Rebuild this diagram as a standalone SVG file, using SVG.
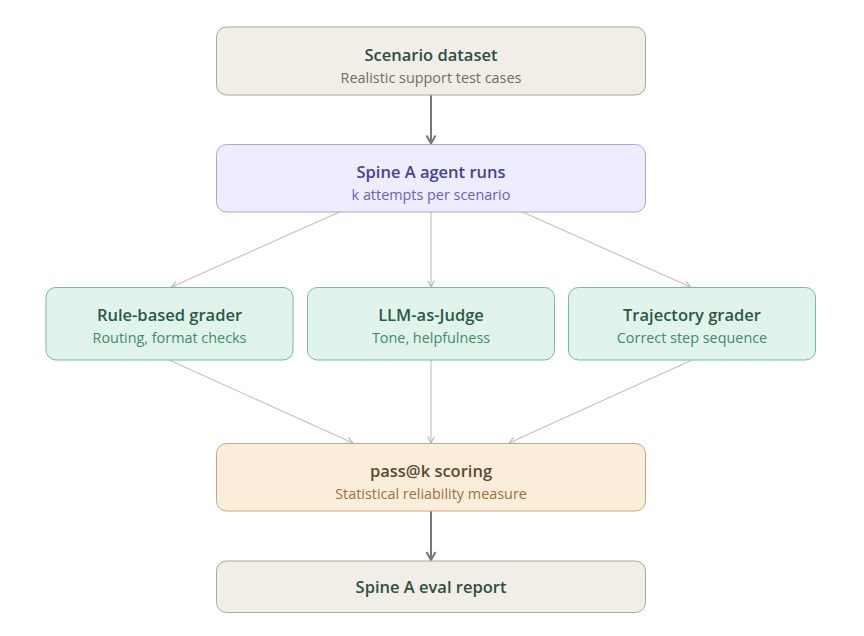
<svg xmlns="http://www.w3.org/2000/svg" width="864" height="636" viewBox="0 0 864 636">
<defs>
<style>
.t{font-family:"Open Sans","Noto Sans","Liberation Sans",sans-serif;font-size:16.5px;font-weight:600;text-anchor:middle}
.s{font-family:"Open Sans","Noto Sans","Liberation Sans",sans-serif;font-size:14.4px;text-anchor:middle}
.main{stroke:#777;stroke-width:2;fill:none}
.thin{stroke:#c4c0ba;stroke-width:1.1;fill:none}
</style>
<marker id="ah" viewBox="0 0 12 12" refX="10" refY="6" markerWidth="12" markerHeight="12" markerUnits="userSpaceOnUse" orient="auto">
<path d="M2,1.5 L10,6 L2,10.5" fill="none" stroke="#777" stroke-width="2"/>
</marker>
<marker id="al" viewBox="0 0 10 10" refX="9" refY="5" markerWidth="9" markerHeight="9" markerUnits="userSpaceOnUse" orient="auto">
<path d="M2,1.5 L9,5 L2,8.5" fill="none" stroke="#b8b4ae" stroke-width="1.2"/>
</marker>
</defs>
<rect width="864" height="636" fill="#ffffff"/>
<g id="connectors">
<line class="main" x1="431" y1="95" x2="431" y2="143.5" marker-end="url(#ah)"/>
<line class="thin" x1="339.5" y1="212" x2="171.5" y2="287" marker-end="url(#al)"/>
<line class="thin" x1="431" y1="212" x2="431" y2="287" marker-end="url(#al)"/>
<line class="thin" x1="522.5" y1="212" x2="690.5" y2="287" marker-end="url(#al)"/>
<line class="thin" x1="169" y1="360" x2="353" y2="443" marker-end="url(#al)"/>
<line class="thin" x1="431" y1="360" x2="431" y2="443" marker-end="url(#al)"/>
<line class="thin" x1="692" y1="360" x2="509" y2="443" marker-end="url(#al)"/>
<line class="main" x1="431" y1="511" x2="431" y2="560" marker-end="url(#ah)"/>
</g>
<g id="scenario">
<rect x="216.5" y="27" width="429" height="68" rx="10" fill="#f1eee7" stroke="#aaa69d"/>
<text class="t" x="431" y="61" fill="#2f4e3f">Scenario dataset</text>
<text class="s" x="431" y="83" fill="#6d6f66">Realistic support test cases</text>
</g>
<g id="agent">
<rect x="216.5" y="144.5" width="429" height="67.5" rx="10" fill="#eeedfd" stroke="#aaa4e4"/>
<text class="t" x="431" y="178" fill="#4a3f98">Spine A agent runs</text>
<text class="s" x="431" y="200" fill="#6a60c4">k attempts per scenario</text>
</g>
<g id="rule">
<rect x="46" y="287.5" width="247" height="72.5" rx="10" fill="#e1f4ec" stroke="#76b8a0"/>
<text class="t" x="169.5" y="321" fill="#2b5847">Rule-based grader</text>
<text class="s" x="169.5" y="343" fill="#3d8a6f">Routing, format checks</text>
</g>
<g id="llm">
<rect x="307.5" y="287.5" width="247" height="72.5" rx="10" fill="#e1f4ec" stroke="#76b8a0"/>
<text class="t" x="431" y="321" fill="#2b5847">LLM-as-Judge</text>
<text class="s" x="431" y="343" fill="#3d8a6f">Tone, helpfulness</text>
</g>
<g id="trajectory">
<rect x="568.5" y="287.5" width="247" height="72.5" rx="10" fill="#e1f4ec" stroke="#76b8a0"/>
<text class="t" x="692" y="321" fill="#2b5847">Trajectory grader</text>
<text class="s" x="692" y="343" fill="#3d8a6f">Correct step sequence</text>
</g>
<g id="passk">
<rect x="216.5" y="443.5" width="429" height="67.5" rx="10" fill="#faeedb" stroke="#c8a77c"/>
<text class="t" x="431" y="477" fill="#5a4b2b">pass@k scoring</text>
<text class="s" x="431" y="499" fill="#9a7040">Statistical reliability measure</text>
</g>
<g id="report">
<rect x="216.5" y="561" width="429" height="51.5" rx="10" fill="#f1eee7" stroke="#aaa69d"/>
<text class="t" x="431" y="593" fill="#2f4e3f">Spine A eval report</text>
</g>
</svg>
